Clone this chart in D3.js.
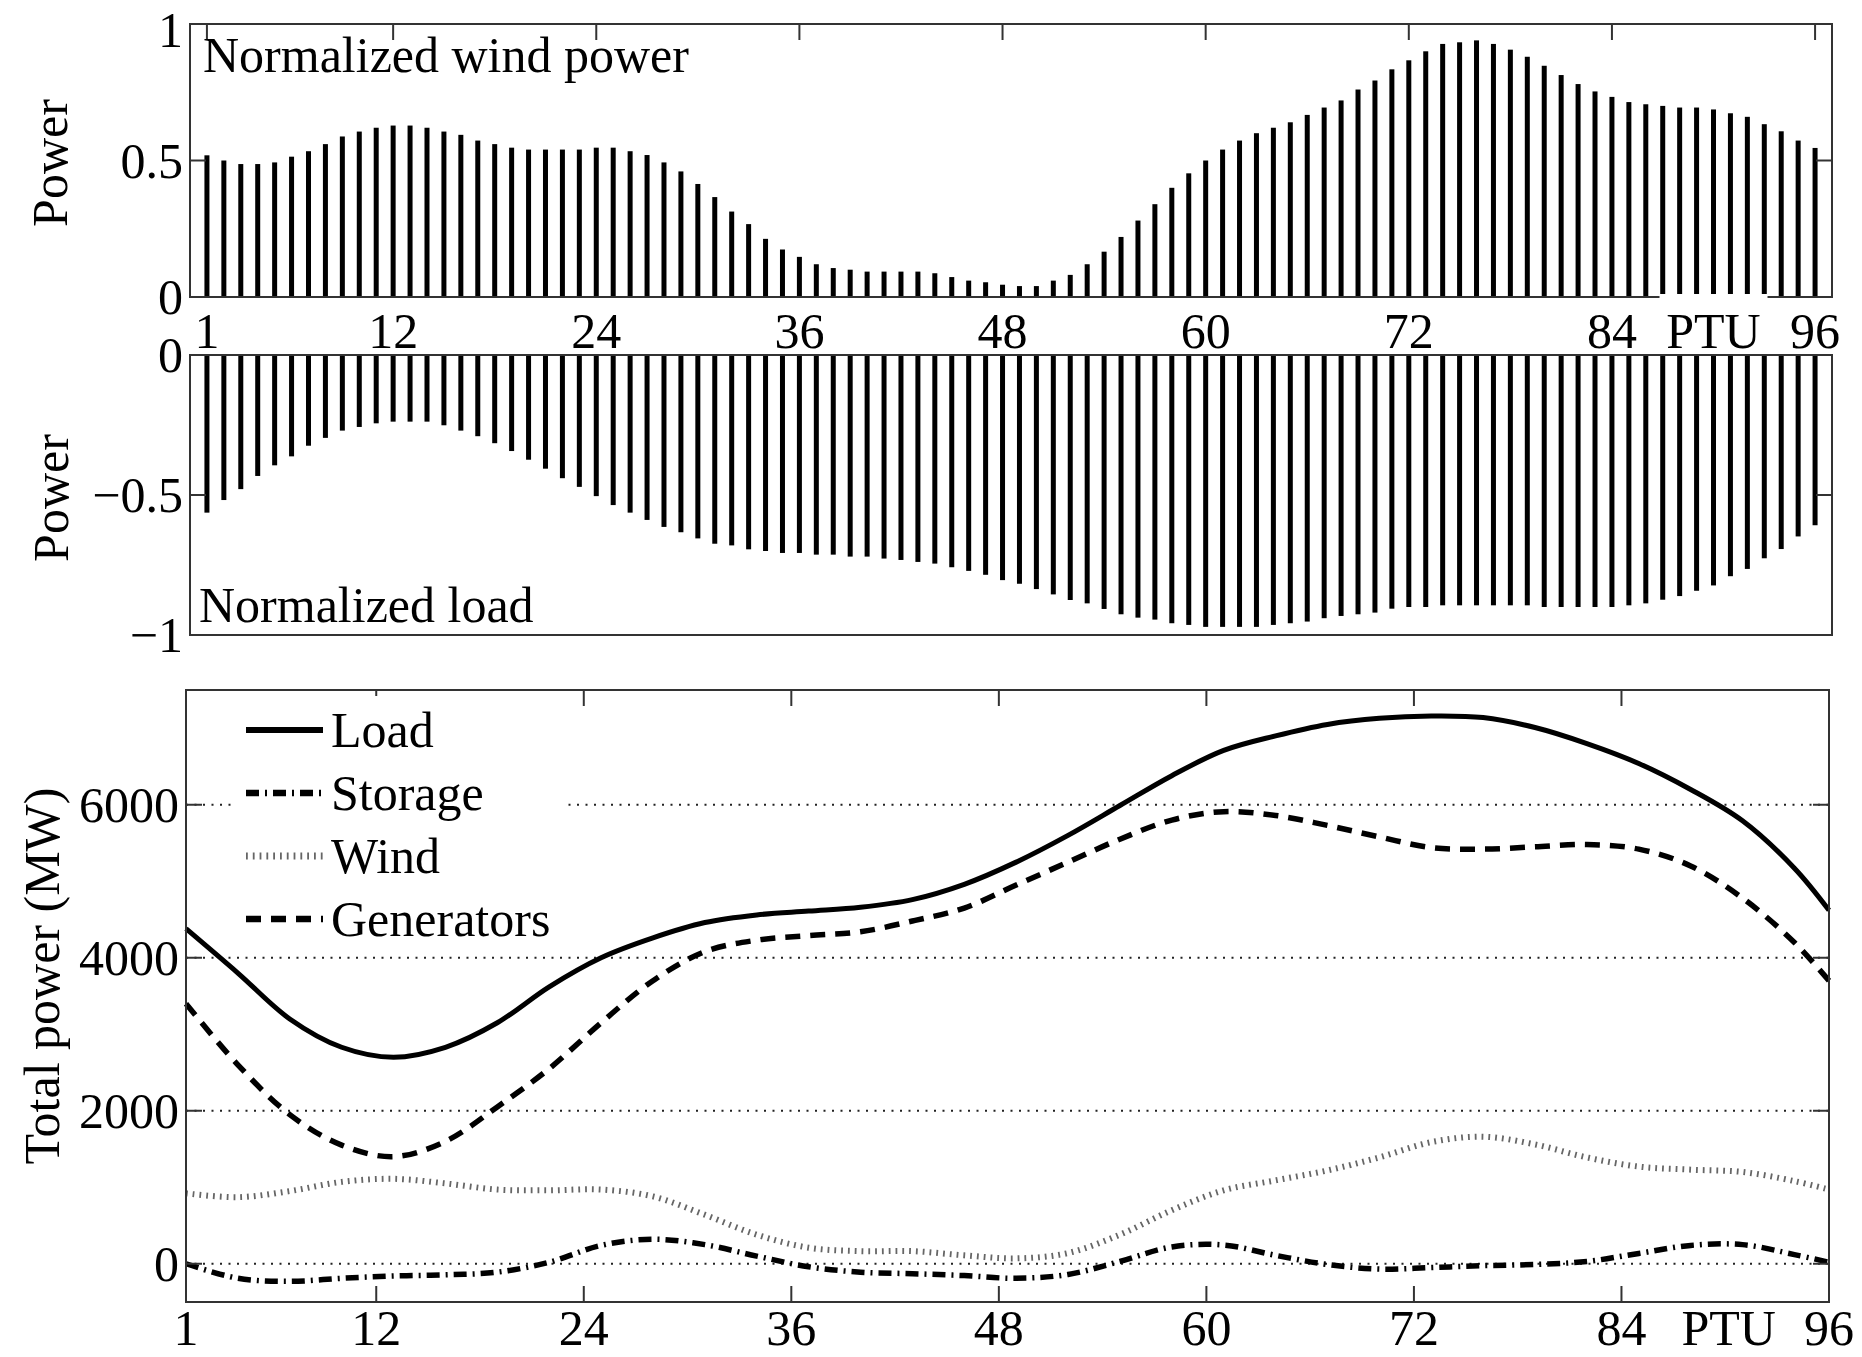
<!DOCTYPE html>
<html>
<head>
<meta charset="utf-8">
<script src="https://cdn.jsdelivr.net/npm/d3@7"></script>
<style>
  html, body { margin: 0; padding: 0; background: #fff; }
  svg text { font-family: "Liberation Serif", "Times New Roman", serif; fill: #000; }
</style>
</head>
<body>
<div id="chart"></div>
<script>
// PTU tick labels shared by all panels
const xTicks = [1, 12, 24, 36, 48, 60, 72, 84, 96];

// normalized wind power, PTU 1..96
const windNorm = [
  0.519, 0.500, 0.487, 0.487, 0.493, 0.514, 0.534, 0.560, 0.588, 0.606,
  0.620, 0.628, 0.628, 0.620, 0.606, 0.594, 0.573, 0.560, 0.547, 0.540,
  0.540, 0.540, 0.540, 0.547, 0.547, 0.534, 0.520, 0.493, 0.460, 0.414,
  0.366, 0.313, 0.267, 0.213, 0.174, 0.147, 0.120, 0.106, 0.100, 0.093,
  0.093, 0.093, 0.093, 0.087, 0.073, 0.060, 0.054, 0.045, 0.040, 0.040,
  0.060, 0.081, 0.120, 0.166, 0.220, 0.280, 0.340, 0.400, 0.453, 0.500,
  0.540, 0.573, 0.600, 0.620, 0.640, 0.667, 0.694, 0.720, 0.760, 0.793,
  0.834, 0.867, 0.900, 0.927, 0.933, 0.940, 0.927, 0.906, 0.880, 0.847,
  0.813, 0.780, 0.753, 0.733, 0.714, 0.706, 0.700, 0.694, 0.694, 0.687,
  0.673, 0.660, 0.633, 0.607, 0.573, 0.546
];

// normalized load, PTU 1..96
const loadNorm = [
  -0.563, -0.518, -0.479, -0.432, -0.394, -0.362, -0.324, -0.296, -0.270, -0.257,
  -0.244, -0.238, -0.238, -0.238, -0.251, -0.270, -0.290, -0.315, -0.343, -0.374,
  -0.406, -0.440, -0.471, -0.504, -0.536, -0.563, -0.589, -0.614, -0.633, -0.655,
  -0.674, -0.680, -0.694, -0.700, -0.707, -0.707, -0.713, -0.713, -0.720, -0.720,
  -0.727, -0.732, -0.739, -0.745, -0.758, -0.771, -0.785, -0.804, -0.817, -0.836,
  -0.855, -0.875, -0.887, -0.907, -0.926, -0.938, -0.945, -0.958, -0.964, -0.971,
  -0.971, -0.971, -0.971, -0.964, -0.958, -0.952, -0.940, -0.932, -0.926, -0.920,
  -0.906, -0.900, -0.900, -0.894, -0.894, -0.894, -0.894, -0.894, -0.894, -0.900,
  -0.900, -0.900, -0.900, -0.900, -0.894, -0.887, -0.874, -0.861, -0.842, -0.823,
  -0.790, -0.764, -0.726, -0.693, -0.648, -0.608
];

// total power curves (MW), read at these PTUs
const linePTU = [1, 4, 7, 10, 13, 16, 19, 22, 25, 28, 31, 34, 37, 40, 43, 46, 49,
  52, 55, 58, 61, 64, 67, 70, 73, 76, 79, 82, 85, 88, 91, 94, 96];
const loadMW = [4380, 3800, 3200, 2830, 2700, 2830, 3150, 3620, 4000, 4260, 4460,
  4560, 4610, 4660, 4760, 4960, 5250, 5600, 5990, 6380, 6710, 6900, 7050, 7130,
  7160, 7140, 7010, 6800, 6540, 6200, 5790, 5170, 4620];
const storageMW = [0, -190, -230, -190, -160, -145, -110, 20, 240, 320, 250,
  100, -40, -110, -130, -155, -190, -140, 30, 220, 245, 110, -10, -70,
  -50, -25, -10, 30, 135, 240, 250, 120, 20];
const windMW = [920, 870, 950, 1070, 1110, 1050, 970, 960, 970, 880, 640,
  380, 210, 165, 165, 110, 70, 140, 380, 700, 960, 1090, 1220, 1390,
  1590, 1660, 1560, 1390, 1270, 1230, 1200, 1080, 970];
const genMW = [3400, 2600, 1950, 1550, 1400, 1600, 2050, 2550, 3150, 3700, 4080,
  4230, 4290, 4340, 4480, 4650, 4950, 5250, 5550, 5800, 5910, 5860, 5730, 5580,
  5440, 5420, 5450, 5480, 5420, 5200, 4780, 4200, 3700];
const powerTicks = [0, 2000, 4000, 6000];

const W = 1862, H = 1357;
const FONT = 50;
const TICK = 16;
const AXIS = "#333";

const svg = d3.select("#chart").append("svg")
  .attr("width", W).attr("height", H);
svg.append("rect").attr("width", W).attr("height", H).attr("fill", "#fff");

function box(g, p) {
  g.append("rect")
    .attr("x", p.left).attr("y", p.top)
    .attr("width", p.right - p.left).attr("height", p.bottom - p.top)
    .attr("fill", "none").attr("stroke", AXIS).attr("stroke-width", 2);
}

function yTickMarks(g, p, y, vals, labels, nudge) {
  vals.forEach((v, i) => {
    g.append("line").attr("x1", p.left).attr("x2", p.left + TICK)
      .attr("y1", y(v)).attr("y2", y(v)).attr("stroke", AXIS).attr("stroke-width", 2);
    g.append("line").attr("x1", p.right).attr("x2", p.right - TICK)
      .attr("y1", y(v)).attr("y2", y(v)).attr("stroke", AXIS).attr("stroke-width", 2);
    g.append("text").attr("x", p.left - 7).attr("y", y(v) + ((nudge && nudge[i]) || 0))
      .attr("text-anchor", "end").attr("dominant-baseline", "central")
      .attr("font-size", FONT).text(labels[i]);
  });
}

function yLabel(g, text, cx, cy) {
  g.append("text").attr("transform", `translate(${cx},${cy}) rotate(-90)`)
    .attr("text-anchor", "middle").attr("dominant-baseline", "central")
    .attr("font-size", FONT).text(text);
}

// ---------- top panel: normalized wind power ----------
const p1 = { left: 190, right: 1832, top: 24, bottom: 297 };
const x1 = d3.scaleLinear().domain([0, 97]).range([p1.left, p1.right]);
const y1 = d3.scaleLinear().domain([0, 1]).range([p1.bottom, p1.top]);
const g1 = svg.append("g");

g1.selectAll(".wbar").data(windNorm).enter().append("rect")
  .attr("x", (d, i) => x1(i + 1) - 2.5)
  .attr("y", d => y1(d))
  .attr("width", 5)
  .attr("height", d => y1(0) - y1(d))
  .attr("fill", "#000");
box(g1, p1);
xTicks.forEach(t => {
  g1.append("line").attr("x1", x1(t)).attr("x2", x1(t))
    .attr("y1", p1.top).attr("y2", p1.top + TICK).attr("stroke", AXIS).attr("stroke-width", 2);
});
// top label "1" pushed down a touch so it stays inside the page
yTickMarks(g1, p1, y1, [0, 0.5, 1], ["0", "0.5", "1"], [0, 0, 6]);
// white patch behind the PTU label, as in the original
g1.append("rect").attr("x", x1(90) - 54).attr("y", p1.bottom - 3)
  .attr("width", 108).attr("height", 56).attr("fill", "#fff");
xTicks.forEach(t => {
  g1.append("text").attr("x", x1(t)).attr("y", 348)
    .attr("text-anchor", "middle").attr("font-size", FONT).text(t);
});
g1.append("text").attr("x", x1(90)).attr("y", 348)
  .attr("text-anchor", "middle").attr("font-size", FONT).text("PTU");
g1.append("text").attr("x", 203).attr("y", 72)
  .attr("font-size", FONT).text("Normalized wind power");
yLabel(g1, "Power", 50, 163);

// ---------- middle panel: normalized load ----------
const p2 = { left: 190, right: 1832, top: 355, bottom: 635 };
const x2 = d3.scaleLinear().domain([0, 97]).range([p2.left, p2.right]);
const y2 = d3.scaleLinear().domain([-1, 0]).range([p2.bottom, p2.top]);
const g2 = svg.append("g");

g2.selectAll(".lbar").data(loadNorm).enter().append("rect")
  .attr("x", (d, i) => x2(i + 1) - 2.5)
  .attr("y", y2(0))
  .attr("width", 5)
  .attr("height", d => y2(d) - y2(0))
  .attr("fill", "#000");
box(g2, p2);
yTickMarks(g2, p2, y2, [0, -0.5, -1], ["0", "\u22120.5", "\u22121"]);
g2.append("text").attr("x", 199).attr("y", 622)
  .attr("font-size", FONT).text("Normalized load");
yLabel(g2, "Power", 51, 498);

// ---------- bottom panel: total power ----------
const p3 = { left: 186, right: 1829, top: 690, bottom: 1302 };
const x3 = d3.scaleLinear().domain([1, 96]).range([p3.left, p3.right]);
const y3 = d3.scaleLinear().domain([-500, 7500]).range([p3.bottom, p3.top]);
const g3 = svg.append("g");

// dotted grid
powerTicks.forEach(v => {
  g3.append("line").attr("x1", p3.left).attr("x2", p3.right)
    .attr("y1", y3(v)).attr("y2", y3(v))
    .attr("stroke", "#222").attr("stroke-width", 1.8).attr("stroke-dasharray", "2,6.5");
});

const series = [
  { name: "Load", values: loadMW, color: "#000", width: 5, dash: null },
  { name: "Storage", values: storageMW, color: "#000", width: 5.5, dash: "13,6,2,6" },
  { name: "Wind", values: windMW, color: "#666", width: 6, dash: "1.8,5" },
  { name: "Generators", values: genMW, color: "#000", width: 5.5, dash: "15,10" }
];

const line = d3.line()
  .x((d, i) => x3(linePTU[i]))
  .y(d => y3(d))
  .curve(d3.curveCatmullRom.alpha(0.5));

// draw wind first so it sits beneath the others
[2, 1, 3, 0].forEach(k => {
  const s = series[k];
  g3.append("path").datum(s.values)
    .attr("d", line)
    .attr("fill", "none")
    .attr("stroke", s.color)
    .attr("stroke-width", s.width)
    .attr("stroke-dasharray", s.dash)
    .attr("stroke-linejoin", "round");
});

box(g3, p3);
xTicks.forEach(t => {
  g3.append("line").attr("x1", x3(t)).attr("x2", x3(t))
    .attr("y1", p3.top).attr("y2", p3.top + TICK).attr("stroke", AXIS).attr("stroke-width", 2);
  g3.append("line").attr("x1", x3(t)).attr("x2", x3(t))
    .attr("y1", p3.bottom).attr("y2", p3.bottom - TICK).attr("stroke", AXIS).attr("stroke-width", 2);
  g3.append("text").attr("x", x3(t)).attr("y", 1345)
    .attr("text-anchor", "middle").attr("font-size", FONT).text(t);
});
g3.append("text").attr("x", x3(90.2)).attr("y", 1345)
  .attr("text-anchor", "middle").attr("font-size", FONT).text("PTU");
yTickMarks(g3, p3, y3, powerTicks, powerTicks.map(String));
yLabel(g3, "Total power (MW)", 42, 976);

// legend
const lg = g3.append("g");
lg.append("rect").attr("x", 232).attr("y", 696).attr("width", 335).attr("height", 248)
  .attr("fill", "#fff");
series.forEach((s, i) => {
  const cy = 730 + i * 63;
  lg.append("line").attr("x1", 246).attr("x2", 323).attr("y1", cy).attr("y2", cy)
    .attr("stroke", s.color).attr("stroke-width", s.width + 1)
    .attr("stroke-dasharray", s.dash);
  lg.append("text").attr("x", 331).attr("y", cy)
    .attr("dominant-baseline", "central").attr("font-size", FONT).text(s.name);
});
</script>
</body>
</html>
